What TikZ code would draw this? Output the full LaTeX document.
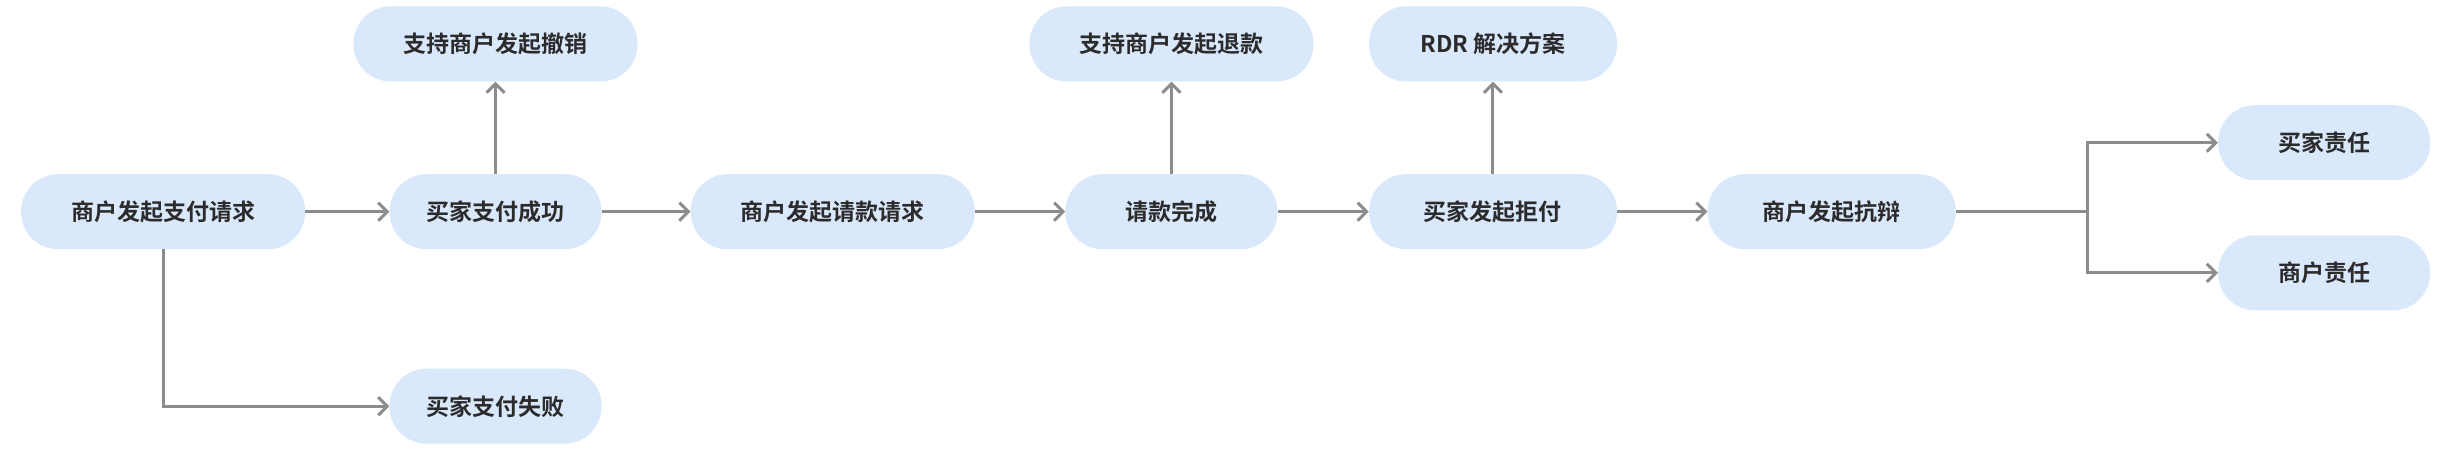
\documentclass[tikz,border=0pt]{standalone}
\usepackage{fontspec}
\newfontfamily\cjk{Noto Sans CJK SC}[BoldFont=* Bold]
\usetikzlibrary{arrows.meta}
\definecolor{boxfill}{HTML}{DAE8FC}
\definecolor{linegray}{HTML}{8C8C8C}
\definecolor{txt}{HTML}{2B2B2B}
\tikzset{
  stage/.style={rounded corners=37pt, fill=boxfill, minimum height=75pt, text=txt, font=\cjk\bfseries\fontsize{23pt}{26pt}\selectfont},
  flow/.style={draw=linegray, line width=3pt, -{Straight Barb[length=9pt,width=18pt,line width=3pt]}}
}
\begin{document}
\begin{tikzpicture}[x=1.568pt,y=-1.568pt]
\useasboundingbox (0,0) rectangle (1568,286);

\node[stage, minimum width=284pt] (pay) at (104,135) {商户发起支付请求};
\node[stage, minimum width=212pt] (ok) at (316,135) {买家支付成功};
\node[stage, minimum width=284pt] (cancel) at (316,28) {支持商户发起撤销};
\node[stage, minimum width=212pt] (fail) at (316,259) {买家支付失败};
\node[stage, minimum width=284pt] (capture) at (531,135) {商户发起请款请求};
\node[stage, minimum width=212pt] (done) at (747,135) {请款完成};
\node[stage, minimum width=284pt] (refund) at (747,28) {支持商户发起退款};
\node[stage, minimum width=248pt] (cb) at (952,135) {买家发起拒付};
\node[stage, minimum width=248pt] (rdr) at (952,28) {RDR 解决方案};
\node[stage, minimum width=248pt] (dispute) at (1168,135) {商户发起抗辩};
\node[stage, minimum width=212pt] (buyer) at (1482,91) {买家责任};
\node[stage, minimum width=212pt] (merchant) at (1482,174) {商户责任};
\coordinate (fork) at (1331,135);

\draw[flow] (pay) -- (ok);
\draw[flow] (ok) -- (cancel);
\draw[flow] (pay.south) |- (fail);
\draw[flow] (ok) -- (capture);
\draw[flow] (capture) -- (done);
\draw[flow] (done) -- (refund);
\draw[flow] (done) -- (cb);
\draw[flow] (cb) -- (rdr);
\draw[flow] (cb) -- (dispute);
\draw[draw=linegray, line width=3pt] (dispute) -- (fork);
\draw[flow] (fork) |- (buyer);
\draw[flow] (fork) |- (merchant);

\end{tikzpicture}
\end{document}
